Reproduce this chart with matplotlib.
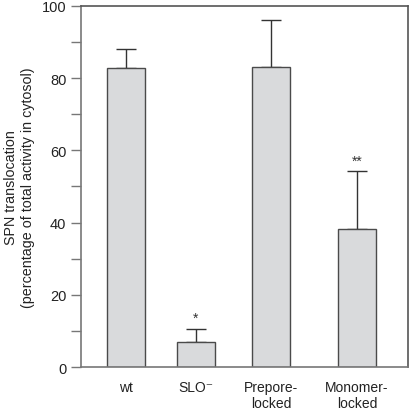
import matplotlib
matplotlib.use('Agg')
import matplotlib.pyplot as plt
from matplotlib.ticker import MultipleLocator

plt.rcParams['font.family'] = ['Liberation Sans', 'DejaVu Sans']

# data
labels = ['wt', 'SLO\u207b', 'Prepore-\nlocked', 'Monomer-\nlocked']
values = [82.8, 6.9, 83.1, 38.2]
errors = [5.3, 3.7, 13.0, 16.1]
marks = ['', '*', '', '**']

# bar centres (uneven spacing as in the original)
xpos = [0.45, 1.15, 1.90, 2.76]

fig = plt.figure(figsize=(4.09, 4.10), dpi=100)
ax = fig.add_axes([0.198, 0.1024, 0.7996, 0.8806])

ax.bar(xpos, values, width=0.38, color='#d9dadc', edgecolor='#4a4a4a',
       linewidth=1.0, zorder=2)
ax.errorbar(xpos, values, yerr=[[0]*4, errors], fmt='none', ecolor='#333333',
            elinewidth=1.0, capsize=7, capthick=1.0, zorder=1)

for x, v, e, m in zip(xpos, values, errors, marks):
    if m:
        ax.text(x, v + e + 1.0, m, ha='center', va='bottom', fontsize=10,
                color='#333333')

ax.set_xlim(0, 3.27)
ax.set_ylim(0, 100)
ax.yaxis.set_major_locator(MultipleLocator(20))
ax.yaxis.set_minor_locator(MultipleLocator(10))
ax.set_xticks(xpos)
ax.set_xticklabels(labels, fontsize=10, color='#222222', linespacing=1.2)
ax.tick_params(axis='x', length=0, pad=9)
ax.tick_params(axis='y', which='both', direction='out', length=7.5,
               width=1.0, color='#777777', labelsize=10.5, labelcolor='#222222',
               pad=3)

for sp in ax.spines.values():
    sp.set_color('#777777')
    sp.set_linewidth(1.2)
ax.spines['top'].set_color('#555555')
ax.spines['right'].set_color('#555555')

ax.set_ylabel('SPN translocation\n(percentage of total activity in cytosol)',
              fontsize=10.3, color='#222222', linespacing=1.3, va='center')
ax.yaxis.set_label_coords(-0.188, 0.5)

fig.savefig('out.png', dpi=100)
